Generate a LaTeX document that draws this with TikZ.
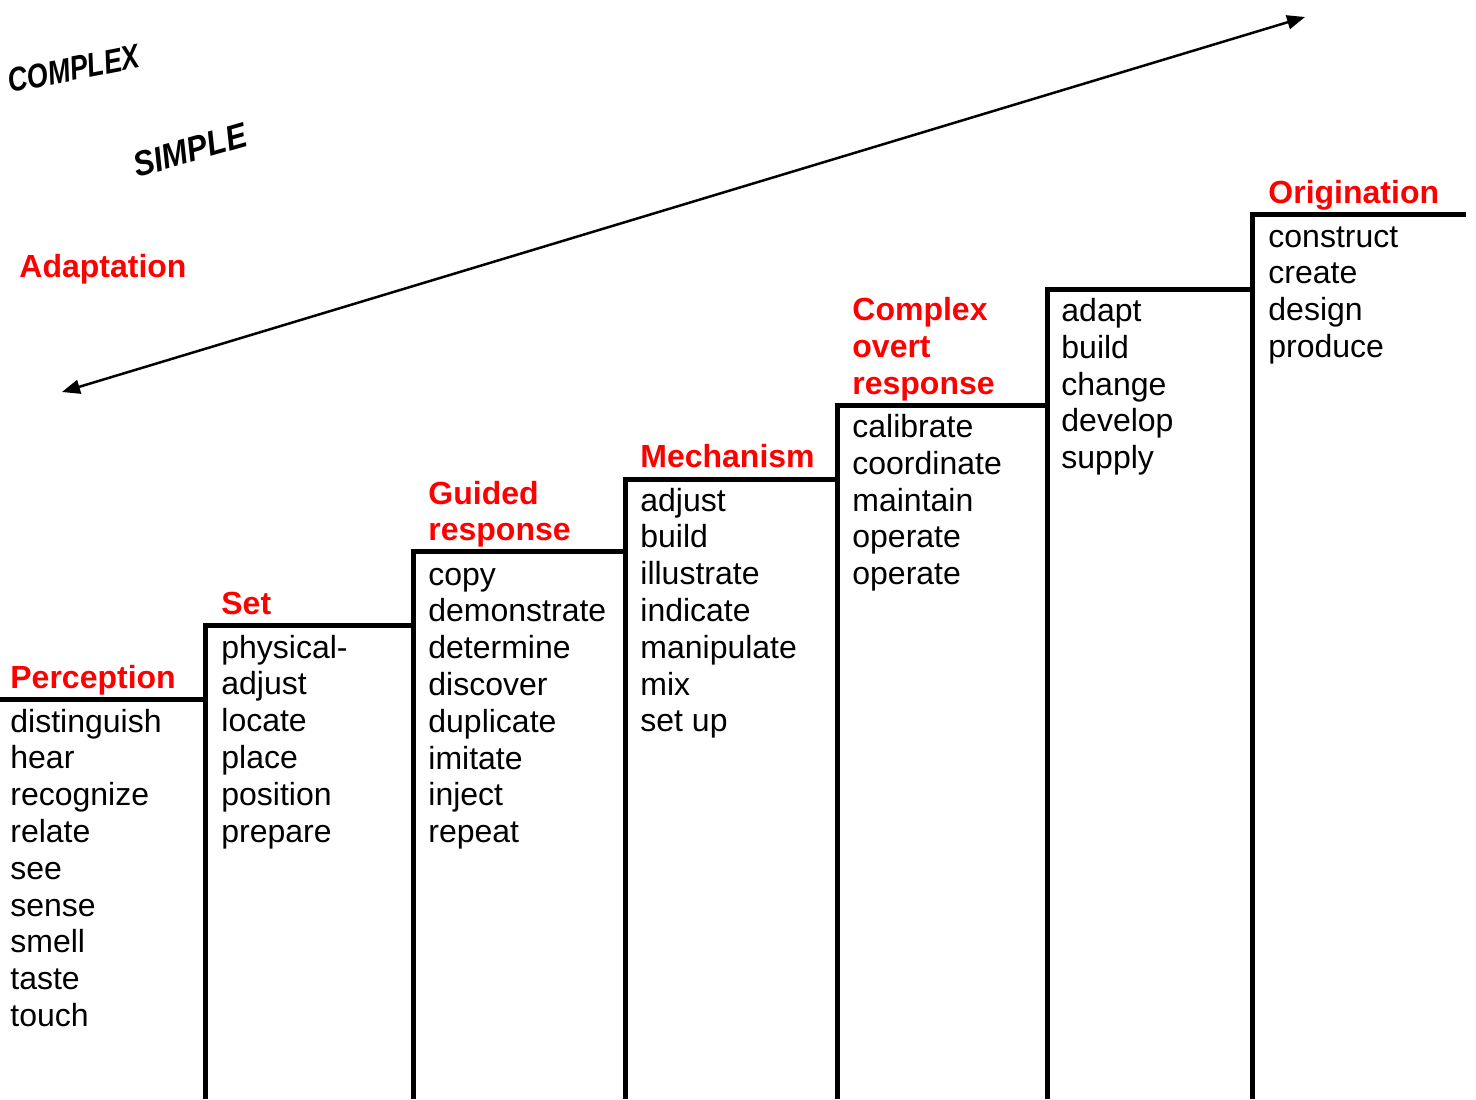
\documentclass[tikz,border=0pt]{standalone}
\usepackage{fontspec}
\setmainfont{Liberation Sans}
\usetikzlibrary{arrows.meta}
\begin{document}
\begin{tikzpicture}[x=0.5pt,y=-0.5pt,
  stair/.style={line width=2.5pt},
  item/.style={anchor=base west, inner sep=0pt, font=\fontsize{16}{18.4}\selectfont},
  head/.style={item, text=red, font=\fontsize{16}{18.4}\selectfont\bfseries},
  wa/.style={anchor=base west, inner sep=0pt},
  arr/.style={line width=1.25pt, {Triangle[length=9pt,width=7pt]}-{Triangle[length=9pt,width=7pt]}}]
\useasboundingbox (0,0) rectangle (1476,1099);
% stairs
\draw[stair] (0,699) -- (205,699);
\draw[stair] (205,1099) -- (205,625) -- (413,625);
\draw[stair] (413,1099) -- (413,551) -- (625,551);
\draw[stair] (625,1099) -- (625,479) -- (837,479);
\draw[stair] (837,1099) -- (837,405) -- (1047,405);
\draw[stair] (1047,1099) -- (1047,289) -- (1252,289);
\draw[stair] (1252,1099) -- (1252,214) -- (1466,214);
% arrow
\coordinate (aL) at (62,392);
\coordinate (aR) at (1305,17);
\draw[arr] (aL) -- (aR);
% word art
\node[wa, rotate=11, yscale=1.25, font=\fontsize{13.5}{16}\selectfont\bfseries\itshape] (cx) at (10,93) {COMPLEX};
\node[wa, rotate=16, yscale=1.12, font=\fontsize{15.6}{18}\selectfont\bfseries\itshape] (sp) at (137,178) {SIMPLE};
% headings
\node[head] (hAd) at (19,277) {Adaptation};
\node[head] (hPe) at (10,688) {Perception};
\node[head] (hSe) at (221,614) {Set};
\node[head] (hGu1) at (428,504) {Guided};
\node[head] (hGu2) at (428,540.5) {response};
\node[head] (hMe) at (640,467.5) {Mechanism};
\node[head] (hCo1) at (852,320.4) {Complex};
\node[head] (hCo2) at (852,357.2) {overt};
\node[head] (hCo3) at (852,394) {response};
\node[head] (hOr) at (1268,203.5) {Origination};
% items
\foreach \w [count=\i] in {distinguish,hear,recognize,relate,see,sense,smell,taste,touch}
  \node[item] (a\i) at (10,{732+(\i-1)*36.8}) {\w};
\foreach \w [count=\i] in {physical-,adjust,locate,place,position,prepare}
  \node[item] (b\i) at (221,{658+(\i-1)*36.8}) {\w};
\foreach \w [count=\i] in {copy,demonstrate,determine,discover,duplicate,imitate,inject,repeat}
  \node[item] (c\i) at (428,{585+(\i-1)*36.8}) {\w};
\foreach \w [count=\i] in {adjust,build,illustrate,indicate,manipulate,mix,set up}
  \node[item] (d\i) at (640,{511+(\i-1)*36.8}) {\w};
\foreach \w [count=\i] in {calibrate,coordinate,maintain,operate,operate}
  \node[item] (e\i) at (852,{437.5+(\i-1)*36.8}) {\w};
\foreach \w [count=\i] in {adapt,build,change,develop,supply}
  \node[item] (f\i) at (1061,{321.5+(\i-1)*36.8}) {\w};
\foreach \w [count=\i] in {construct,create,design,produce}
  \node[item] (g\i) at (1268,{247+(\i-1)*36.8}) {\w};
\end{tikzpicture}
\end{document}
